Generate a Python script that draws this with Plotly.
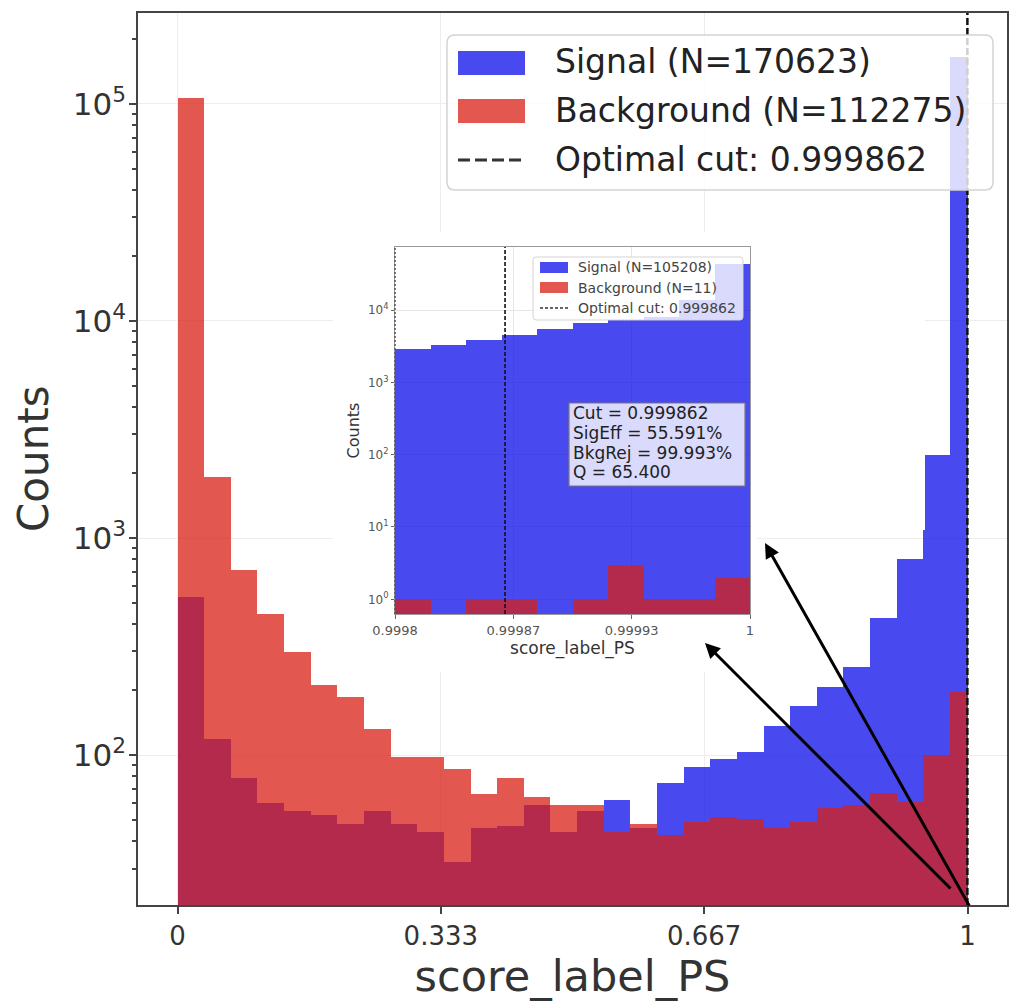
import plotly.graph_objects as go

# ---------------- data ----------------
MAIN_EDGES = [0.0, 0.0337, 0.0674, 0.1012, 0.1349, 0.1686, 0.2023, 0.2360, 0.2698, 0.3035,
              0.3372, 0.3709, 0.4046, 0.4384, 0.4721, 0.5058, 0.5395, 0.5732, 0.6070, 0.6407,
              0.6744, 0.7081, 0.7418, 0.7756, 0.8093, 0.8430, 0.8767, 0.9104, 0.9442, 0.9779, 1.0]
SIGNAL_COUNTS = [533, 119, 78, 60, 55, 53, 48, 55, 48, 44, 32, 46, 47, 59, 44, 55,
                 62, 46, 74, 88, 96, 103, 136, 168, 206, 255, 430, 800, 2400, 164383]
BACKGROUND_COUNTS = [106852, 1910, 713, 446, 298, 210, 185, 132, 98, 98, 86, 66, 78, 64, 59, 59,
                     44, 48, 43, 49, 52, 51, 46, 49, 57, 59, 67, 61, 100, 195]

INSET_EDGES = [0.99980, 0.99982, 0.99984, 0.99986, 0.99988, 0.99990,
               0.99992, 0.99994, 0.99996, 0.99998, 1.00000]
INSET_SIGNAL = [2860, 3280, 3850, 4510, 5400, 6540, 7280, 8090, 13750, 43300]
INSET_BACKGROUND = [1, 0, 1, 1, 0, 1, 3, 1, 1, 2]

CUT = 0.999862
MAIN_LEGEND = ["Signal (N=170623)", "Background (N=112275)", "Optimal cut: 0.999862"]
INSET_LEGEND = ["Signal (N=105208)", "Background (N=11)", "Optimal cut: 0.999862"]
STATS_LINES = ["Cut = 0.999862", "SigEff = 55.591%", "BkgRej = 99.993%", "Q = 65.400"]

MAIN_XTICK_VALS = [0, 1 / 3, 2 / 3, 1]
MAIN_XTICK_TEXT = ["0", "0.333", "0.667", "1"]
MAIN_YTICK_VALS = [1e2, 1e3, 1e4, 1e5]
MAIN_YTICK_TEXT = ["10<sup>2</sup>", "10<sup>3</sup>", "10<sup>4</sup>", "10<sup>5</sup>"]
MAIN_YMINOR_VALS = [30, 40, 50, 60, 70, 80, 90, 200, 300, 400, 500, 600, 700, 800, 900,
                    2000, 3000, 4000, 5000, 6000, 7000, 8000, 9000,
                    20000, 30000, 40000, 50000, 60000, 70000, 80000, 90000, 200000]
INSET_XTICK_VALS = [0.9998, 0.99986667, 0.99993333, 1.0]
INSET_XTICK_TEXT = ["0.9998", "0.99987", "0.99993", "1"]
INSET_YTICK_VALS = [1, 10, 100, 1000, 10000]
INSET_YTICK_TEXT = ["10<sup>0</sup>", "10<sup>1</sup>", "10<sup>2</sup>", "10<sup>3</sup>", "10<sup>4</sup>"]

SIG_COLOR = "rgba(12,12,235,0.75)"
BKG_COLOR = "rgba(216,32,22,0.75)"
FONT = "DejaVu Sans"

# ---------------- geometry helpers (pixel -> paper) ----------------
L, T, R, B = 138, 13, 1007, 905
W, H = R - L, B - T


def fx(px):
    return (px - L) / W


def fy(py):
    return (B - py) / H


def centers(edges):
    return [(a + b) / 2 for a, b in zip(edges[:-1], edges[1:])]


def widths(edges):
    return [b - a for a, b in zip(edges[:-1], edges[1:])]


fig = go.Figure()

# main histograms
fig.add_trace(go.Bar(x=centers(MAIN_EDGES), y=SIGNAL_COUNTS, width=widths(MAIN_EDGES),
                     marker=dict(color=SIG_COLOR, line=dict(width=0)), name=MAIN_LEGEND[0],
                     xaxis="x", yaxis="y"))
fig.add_trace(go.Bar(x=centers(MAIN_EDGES), y=BACKGROUND_COUNTS, width=widths(MAIN_EDGES),
                     marker=dict(color=BKG_COLOR, line=dict(width=0)), name=MAIN_LEGEND[1],
                     xaxis="x", yaxis="y"))
# empty traces for the white patch subplots (cover main grid behind inset)
fig.add_trace(go.Scatter(x=[], y=[], xaxis="x2", yaxis="y2", showlegend=False))
fig.add_trace(go.Scatter(x=[], y=[], xaxis="x3", yaxis="y3", showlegend=False))
# inset histograms
fig.add_trace(go.Bar(x=centers(INSET_EDGES), y=INSET_SIGNAL, width=widths(INSET_EDGES),
                     marker=dict(color=SIG_COLOR, line=dict(width=0)), name=INSET_LEGEND[0],
                     xaxis="x4", yaxis="y4"))
fig.add_trace(go.Bar(x=centers(INSET_EDGES), y=INSET_BACKGROUND, width=widths(INSET_EDGES),
                     marker=dict(color=BKG_COLOR, line=dict(width=0)), name=INSET_LEGEND[1],
                     xaxis="x4", yaxis="y4"))

axis_common = dict(showline=True, mirror=True, zeroline=False, showgrid=True)

fig.update_layout(
    width=1010, height=1005,
    margin=dict(l=L, r=1010 - R, t=T, b=1005 - B, autoexpand=False),
    paper_bgcolor="white", plot_bgcolor="white",
    barmode="overlay", bargap=0, bargroupgap=0, showlegend=False,
    font=dict(family=FONT, color="#333"),
    xaxis=dict(domain=[0, 1], anchor="y", range=[-0.05, 1.05], tickmode="array",
               tickvals=MAIN_XTICK_VALS, ticktext=MAIN_XTICK_TEXT, ticks="outside", ticklen=7,
               tickwidth=1.5, tickcolor="#444", linecolor="#444", linewidth=1.5,
               gridcolor="#ededed", tickfont=dict(size=26, color="#333"),
               title=dict(text="score_label_PS", font=dict(size=43, color="#333"), standoff=8),
               automargin=False, **axis_common),
    yaxis=dict(domain=[0, 1], anchor="x", type="log", range=[1.309, 5.419], tickmode="array",
               tickvals=MAIN_YTICK_VALS, ticktext=MAIN_YTICK_TEXT, ticks="outside", ticklen=7,
               tickwidth=1.5, tickcolor="#444", linecolor="#444", linewidth=1.5,
               gridcolor="#ededed", tickfont=dict(size=31, color="#333"), ticklabelstandoff=-3,
               minor=dict(tickmode="array", tickvals=MAIN_YMINOR_VALS, ticks="outside", ticklen=4,
                          tickcolor="#444", showgrid=False),
               automargin=False, **axis_common),
    xaxis2=dict(domain=[fx(333), fx(925)], anchor="y2", visible=False, range=[0, 1]),
    yaxis2=dict(domain=[fy(530), fy(232)], anchor="x2", visible=False, range=[0, 1]),
    xaxis3=dict(domain=[fx(333), fx(757)], anchor="y3", visible=False, range=[0, 1]),
    yaxis3=dict(domain=[fy(672), fy(530)], anchor="x3", visible=False, range=[0, 1]),
    xaxis4=dict(domain=[fx(395), fx(750)], anchor="y4", range=[0.9998, 1.0], tickmode="array",
                tickvals=INSET_XTICK_VALS, ticktext=INSET_XTICK_TEXT, ticks="outside", ticklen=4,
                tickcolor="#666", linecolor="#999", linewidth=1, gridcolor="#e6e6e6",
                tickfont=dict(size=13, color="#555"),
                title=dict(text="score_label_PS", font=dict(size=17, color="#333"), standoff=2),
                automargin=False, **axis_common),
    yaxis4=dict(domain=[fy(614), fy(247)], anchor="x4", type="log", range=[-0.203, 4.871],
                tickmode="array", tickvals=INSET_YTICK_VALS, ticktext=INSET_YTICK_TEXT,
                ticks="outside", ticklen=3, tickcolor="#666", linecolor="#999", linewidth=1,
                gridcolor="#e6e6e6", tickfont=dict(size=12, color="#555"),
                title=dict(text="Counts", font=dict(size=16, color="#333"), standoff=4),
                automargin=False, **axis_common),
)

shapes = []
# cut lines
shapes.append(dict(type="line", xref="x", yref="y domain", x0=CUT, x1=CUT, y0=0, y1=1,
                   line=dict(color="#111", width=2.5, dash="7px,3px"), layer="above"))
shapes.append(dict(type="line", xref="x4", yref="y4 domain", x0=CUT, x1=CUT, y0=0, y1=1,
                   line=dict(color="#111", width=1.6, dash="4px,2px"), layer="above"))
# inset left spine (dashed look)
shapes.append(dict(type="line", xref="x4 domain", yref="y4 domain", x0=0, x1=0, y0=0, y1=1,
                   line=dict(color="#555", width=1.5, dash="2px,2px"), layer="above"))


def rounded_box(x0, y0, x1, y1, r):
    pts = [
        ("M", [(x0 + r, y0)]), ("L", [(x1 - r, y0)]), ("Q", [(x1, y0), (x1, y0 + r)]),
        ("L", [(x1, y1 - r)]), ("Q", [(x1, y1), (x1 - r, y1)]), ("L", [(x0 + r, y1)]),
        ("Q", [(x0, y1), (x0, y1 - r)]), ("L", [(x0, y0 + r)]), ("Q", [(x0, y0), (x0 + r, y0)]),
    ]
    s = ""
    for cmd, ps in pts:
        s += cmd + " ".join(f"{fx(px):.5f},{fy(py):.5f}" for px, py in ps) + " "
    return s + "Z"


# main legend box
shapes.append(dict(type="path", xref="paper", yref="paper", path=rounded_box(447, 35, 993, 190, 8),
                   fillcolor="rgba(255,255,255,0.8)", line=dict(color="#d4d4d4", width=1.5),
                   layer="above"))
shapes.append(dict(type="rect", xref="paper", yref="paper", x0=fx(458), x1=fx(525), y0=fy(75), y1=fy(51),
                   fillcolor=SIG_COLOR, line=dict(width=0), layer="above"))
shapes.append(dict(type="rect", xref="paper", yref="paper", x0=fx(458), x1=fx(525), y0=fy(123), y1=fy(99),
                   fillcolor=BKG_COLOR, line=dict(width=0), layer="above"))
shapes.append(dict(type="line", xref="paper", yref="paper", x0=fx(458), x1=fx(525), y0=fy(160), y1=fy(160),
                   line=dict(color="#333", width=3, dash="12px,5px"), layer="above"))

# inset legend box
shapes.append(dict(type="path", xref="paper", yref="paper", path=rounded_box(533, 257, 743, 320, 3),
                   fillcolor="rgba(255,255,255,0.8)", line=dict(color="#d4d4d4", width=1),
                   layer="above"))
shapes.append(dict(type="rect", xref="paper", yref="paper", x0=fx(540), x1=fx(568), y0=fy(273), y1=fy(262),
                   fillcolor=SIG_COLOR, line=dict(width=0), layer="above"))
shapes.append(dict(type="rect", xref="paper", yref="paper", x0=fx(540), x1=fx(568), y0=fy(293), y1=fy(282),
                   fillcolor=BKG_COLOR, line=dict(width=0), layer="above"))
shapes.append(dict(type="line", xref="paper", yref="paper", x0=fx(540), x1=fx(568), y0=fy(308), y1=fy(308),
                   line=dict(color="#333", width=1.3, dash="3px,2px"), layer="above"))

# stats box
shapes.append(dict(type="rect", xref="paper", yref="paper", x0=fx(569), x1=fx(745), y0=fy(486), y1=fy(403),
                   fillcolor="rgba(255,255,255,0.8)", line=dict(color="#777", width=1.2), layer="above"))

annotations = []
# main y-axis title
annotations.append(dict(xref="paper", yref="paper", x=fx(33), y=fy(459), text="Counts", showarrow=False,
                        textangle=-90, xanchor="center", yanchor="middle",
                        font=dict(size=42, color="#333", family=FONT)))
for txt, py in zip(MAIN_LEGEND, [62, 110, 160]):
    annotations.append(dict(xref="paper", yref="paper", x=fx(553), y=fy(py), text=txt, showarrow=False,
                            xanchor="left", yanchor="middle", font=dict(size=33, color="#222", family=FONT)))
for txt, py in zip(INSET_LEGEND, [267, 288, 308]):
    annotations.append(dict(xref="paper", yref="paper", x=fx(576), y=fy(py), text=txt, showarrow=False,
                            xanchor="left", yanchor="middle", font=dict(size=14, color="#444", family=FONT)))
for txt, py in zip(STATS_LINES, [413, 433, 453, 472]):
    annotations.append(dict(xref="paper", yref="paper", x=fx(571), y=fy(py), text=txt, showarrow=False,
                            xanchor="left", yanchor="middle", font=dict(size=17, color="#222", family=FONT)))

# arrows
annotations.append(dict(xref="paper", yref="paper", x=fx(705), y=fy(643), ax=247, ay=247, text="",
                        showarrow=True, arrowhead=2, arrowsize=1, arrowwidth=3, arrowcolor="black",
                        standoff=0, startstandoff=0))
annotations.append(dict(xref="paper", yref="paper", x=fx(765), y=fy(543), ax=205, ay=364, text="",
                        showarrow=True, arrowhead=2, arrowsize=1, arrowwidth=3, arrowcolor="black",
                        standoff=0, startstandoff=0))

fig.update_layout(shapes=shapes, annotations=annotations)
fig.write_html("out.html")
